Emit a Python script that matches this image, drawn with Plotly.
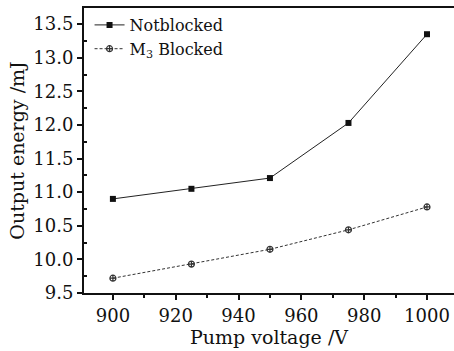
import plotly.graph_objects as go

voltage = [900, 925, 950, 975, 1000]
notblocked = [10.90, 11.05, 11.21, 12.03, 13.35]
m3_blocked = [9.72, 9.93, 10.15, 10.44, 10.78]

FONT = "DejaVu Serif"

fig = go.Figure()
fig.add_trace(go.Scatter(
    x=voltage, y=notblocked, mode="lines+markers", name="Notblocked",
    line=dict(color="#222", width=1),
    marker=dict(symbol="square", size=6, color="#111"),
))
fig.add_trace(go.Scatter(
    x=voltage, y=m3_blocked, mode="lines+markers", name="M<sub>3</sub> Blocked",
    line=dict(color="#333", width=1, dash="3px,2px"),
    marker=dict(symbol="circle-cross-open", size=6, color="#333", line=dict(width=1.2)),
))

fig.update_layout(
    width=454, height=351,
    margin=dict(l=84, r=0, t=8, b=58),
    paper_bgcolor="white", plot_bgcolor="white",
    font=dict(family=FONT, size=18, color="#111"),
    showlegend=True,
    legend=dict(x=0.015, y=1.0, xanchor="left", yanchor="top",
                bgcolor="rgba(0,0,0,0)", font=dict(size=16, family=FONT),
                tracegroupgap=0, itemwidth=30),
    xaxis=dict(
        range=[890.8, 1008.6], tickvals=[900, 920, 940, 960, 980, 1000],
        showgrid=False, zeroline=False,
        showline=True, linecolor="#111", linewidth=2, mirror=True,
        ticks="outside", ticklen=5, tickwidth=1.5, tickcolor="#111",
        minor=dict(dtick=10, ticks="outside", ticklen=3, tickcolor="#111"),
        title=dict(text="Pump voltage /V", font=dict(size=19), standoff=2),
    ),
    yaxis=dict(
        range=[9.5, 13.74], tickvals=[9.5, 10.0, 10.5, 11.0, 11.5, 12.0, 12.5, 13.0, 13.5],
        ticktext=["9.5", "10.0", "10.5", "11.0", "11.5", "12.0", "12.5", "13.0", "13.5"],
        showgrid=False, zeroline=False,
        showline=True, linecolor="#111", linewidth=2,
        ticks="outside", ticklen=5, tickwidth=1.5, tickcolor="#111",
        minor=dict(tick0=9.75, dtick=0.5, ticks="inside", ticklen=3, tickcolor="#111"),
        title=dict(text="Output energy /mJ", font=dict(size=19), standoff=4),
    ),
)

fig.write_html("out.html")
